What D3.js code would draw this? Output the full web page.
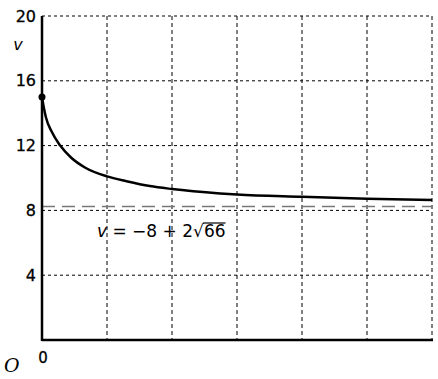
<!DOCTYPE html>
<html>
<head>
<meta charset="utf-8">
<script src="https://cdn.jsdelivr.net/npm/d3@7"></script>
<style>
  html, body { margin: 0; padding: 0; background: #fff; }
  svg { display: block; }
  text { font-family: "DejaVu Sans", sans-serif; fill: #000; }
</style>
</head>
<body>
<svg id="chart" width="438" height="379"></svg>
<script>
// ---- data ----
const tValues = [0, 0.03, 0.06, 0.15, 0.28, 0.45, 0.66, 1.0, 1.3, 1.66, 2.0, 2.74, 3.0, 4.0, 5.0, 6.0];
const vValues = [15, 14.3, 13.75, 12.85, 12.0, 11.25, 10.65, 10.1, 9.8, 9.5, 9.32, 9.05, 8.98, 8.84, 8.72, 8.64];
const asymptote = -8 + 2 * Math.sqrt(66);
const yTicks = [4, 8, 12, 16, 20];
const xGrid = [1, 2, 3, 4, 5, 6];
const yLabel = "v";
const originLabel = "0";
const cornerLabel = "O";

const svg = d3.select("#chart");
const x = d3.scaleLinear().domain([0, 6]).range([42, 432]);
const y = d3.scaleLinear().domain([0, 20]).range([340, 16]);

// grid
svg.append("g").selectAll("line").data(xGrid).join("line")
  .attr("x1", d => x(d)).attr("x2", d => x(d))
  .attr("y1", y(20)).attr("y2", y(0))
  .attr("stroke", "#000").attr("stroke-width", 1)
  .attr("stroke-dasharray", "4,3");
svg.append("g").selectAll("line").data(yTicks).join("line")
  .attr("x1", x(0)).attr("x2", x(6))
  .attr("y1", d => y(d)).attr("y2", d => y(d))
  .attr("stroke", "#000").attr("stroke-width", 1)
  .attr("stroke-dasharray", "3,3");

// asymptote
svg.append("line")
  .attr("x1", x(0)).attr("x2", x(6))
  .attr("y1", y(asymptote)).attr("y2", y(asymptote))
  .attr("stroke", "#777").attr("stroke-width", 1.5)
  .attr("stroke-dasharray", "13,7");

// axes lines
svg.append("line").attr("x1", x(0)).attr("x2", x(0)).attr("y1", y(20)).attr("y2", y(0) + 1)
  .attr("stroke", "#000").attr("stroke-width", 2.5);
svg.append("line").attr("x1", x(0)).attr("x2", x(6) + 1).attr("y1", y(0)).attr("y2", y(0))
  .attr("stroke", "#000").attr("stroke-width", 2.5);

// y tick labels via axis
const yAxis = d3.axisLeft(y).tickValues(yTicks).tickSize(0).tickPadding(6).tickFormat(d3.format("d"));
const ga = svg.append("g").attr("transform", `translate(${x(0)},0)`).call(yAxis);
ga.select(".domain").remove();
ga.selectAll("text").style("font-family", '"DejaVu Sans", sans-serif').style("font-size", "16px")
  .style("font-weight", "500").attr("fill", "#000").attr("stroke", "#000").attr("stroke-width", 0.3);

// curve
const pts = tValues.map((t, i) => [t, vValues[i]]);
const line = d3.line().x(d => x(d[0])).y(d => y(d[1])).curve(d3.curveMonotoneX);
svg.append("path").datum(pts).attr("d", line)
  .attr("fill", "none").attr("stroke", "#000").attr("stroke-width", 2.5);
svg.append("circle").attr("cx", x(tValues[0])).attr("cy", y(vValues[0])).attr("r", 3.5).attr("fill", "#000");

// labels
svg.append("text").attr("x", 18).attr("y", 50).attr("text-anchor", "middle")
  .style("font-size", "16px").style("font-style", "italic").text(yLabel);
svg.append("text").attr("x", x(0) + 1).attr("y", 363).attr("text-anchor", "middle")
  .style("font-size", "15px").attr("stroke", "#000").attr("stroke-width", 0.3).text(originLabel);
svg.append("text").attr("x", 4).attr("y", 372)
  .style("font-family", '"DejaVu Serif", serif').style("font-size", "19px").style("font-style", "italic").text(cornerLabel);

// equation label
const eq = svg.append("text").attr("x", 97).attr("y", 237).style("font-size", "17px");
eq.append("tspan").style("font-style", "italic").text("v");
eq.append("tspan").text(" = −8 + 2");
const eqNode = eq.node();
const bb = eqNode.getBBox();
const sq = svg.append("text").attr("x", bb.x + bb.width).attr("y", 237).style("font-size", "17px").text("√66");
const sb = sq.node().getBBox();
// overline of radical
const rootW = (function(){ const t = svg.append("text").style("font-size","17px").text("√"); const w = t.node().getBBox().width; t.remove(); return w; })();
svg.append("line")
  .attr("x1", sb.x + rootW - 1).attr("x2", sb.x + sb.width)
  .attr("y1", sb.y + 2).attr("y2", sb.y + 2)
  .attr("stroke", "#000").attr("stroke-width", 1.2);
</script>
</body>
</html>
